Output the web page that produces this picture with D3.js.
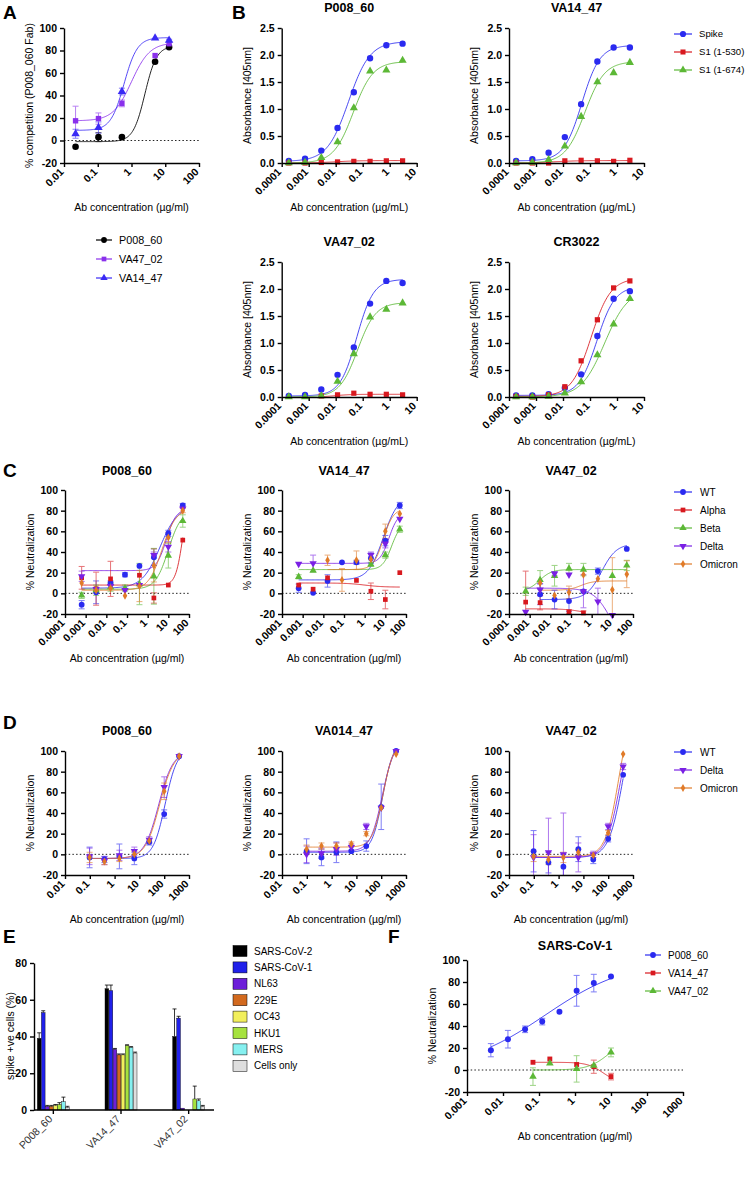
<!DOCTYPE html>
<html><head><meta charset="utf-8">
<script src="https://cdn.jsdelivr.net/npm/d3@7"></script>
<style>body{margin:0;background:#fff}</style>
</head><body>
<script>
// ================= DATA =================
// ---- Panel A ----
const A_conc=[0.022,0.105,0.52,5.0,13.0];
const A_P008_60=[-5.5,3,3,70,83];
const A_P008_60_err=[0,4,0,0,0];
const A_VA47_02=[17.5,19.5,33,75.5,86];
const A_VA47_02_err=[13,5,3,0,0];
const A_VA14_47=[6,11.5,43.5,91,89];
const A_VA14_47_err=[4,5,3,0,1];
const A_fit_P008_60=[-1,84,2.5,2.5];
const A_fit_VA47_02=[17.5,87,1.0,1.6];
const A_fit_VA14_47=[9,91.5,0.6,2.2];
const A_xticks=[0.01,0.1,1,10,100];
const A_xlabels=["0.01","0.1","1","10","100"];
const A_yticks=[-20,0,20,40,60,80,100];

// ---- Panel B ----
const B_conc=[0.000183,0.000732,0.00293,0.0117,0.0469,0.1875,0.75,3.0];
const B_names=["Spike","S1 (1-530)","S1 (1-674)"];
const B1_spike=[0.04,0.08,0.23,0.65,1.31,1.94,2.18,2.21];
const B1_s530=[0.0,0.0,0.01,0.02,0.03,0.03,0.04,0.04];
const B1_s674=[0.0,0.01,0.10,0.39,1.02,1.70,1.72,1.90];
const B2_spike=[0.04,0.07,0.19,0.48,1.09,1.88,2.14,2.14];
const B2_s530=[0.0,0.0,0.0,0.04,0.05,0.04,0.03,0.05];
const B2_s674=[0.0,0.01,0.06,0.31,0.86,1.50,1.67,1.86];
const B3_spike=[0.02,0.04,0.14,0.41,0.92,1.73,2.15,2.11];
const B3_s530=[null,null,0.02,0.04,0.07,0.05,0.05,0.04];
const B3_s674=[0.0,0.0,0.02,0.29,0.80,1.48,1.62,1.74];
const B4_spike=[0.03,0.03,0.05,0.17,0.42,1.13,1.82,1.96];
const B4_s530=[0.01,0.0,0.04,0.19,0.67,1.43,2.02,2.15];
const B4_s674=[0.0,0.0,0.01,0.07,0.28,0.78,1.35,1.82];
const B1_fits=[[0.03,2.25,0.03,1.1],[0,0.045,0.01,1],[0,1.88,0.045,1.2]];
const B2_fits=[[0.04,2.18,0.05,1.3],[0,0.045,0.005,1],[0,1.88,0.065,1.2]];
const B3_fits=[[0.02,2.18,0.06,1.4],[0,0.05,0.01,1.5],[0,1.75,0.065,1.3]];
const B4_fits=[[0.03,2.05,0.18,1.3],[0.01,2.2,0.11,1.2],[0,2.0,0.35,1.0]];
const B_xticks=[0.0001,0.001,0.01,0.1,1,10];
const B_xlabels=["0.0001","0.001","0.01","0.1","1","10"];
const B_yticks=[0,0.5,1.0,1.5,2.0,2.5];

// ---- Panel C ----
const C_conc=[0.00064,0.0032,0.016,0.08,0.4,2,10,50];
const C_names=["WT","Alpha","Beta","Delta","Omicron"];
const C1_WT=[-11,1,10,18,26.5,35,58,85];
const C1_Alpha=[15,4.5,14,null,17.5,-4.5,8,51.5];
const C1_Beta=[-2,3,6,5,9,16.5,36.5,70];
const C1_Delta=[16.5,4,7,3,8,37,45,82];
const C1_Omicron=[10,3,5,-2.3,7,27,54,80];
const C1_err=[[4,11,2,2,0,8,3,2],[11,16,17,0,0,5,0,0],[3,5,4,3,20,27,12,6],[5,0,0,0,0,3,5,0],[0,0,0,0,15,16,5,2]];
const C1_fits=[[5,85,4,1],[8,100,50,2.5],[4,80,10,1.4],[22,82,8,1.8],[3,82,5,1.3]];
const C2_WT=[5,0.5,12,30,30,34,51,85];
const C2_Alpha=[8,4,15,null,12.5,2,-6,20];
const C2_Beta=[16,22,null,null,null,28,37,62];
const C2_Delta=[28.5,29,null,null,null,37,48,72];
const C2_Omicron=[null,null,32,13,32,33,60,77];
const C2_err=[[4,0,6,0,2,5,5,3],[0,0,0,0,0,8,9,0],[2,0,0,0,0,2,3,3],[0,8,0,0,0,3,4,0],[0,0,5,11,9,0,7,0]];
const C2_fits=[[13,95,8,1.2],[10,6,1,1],[23,68,20,2],[29,78,15,2],[23,82,8,1.8]];
const C3_WT=[null,-1,-6,-7.5,2,21.5,null,43];
const C3_Alpha=[-8.5,-9,null,-18,-19,null,null,null];
const C3_Beta=[2,13,17,24,23,null,17,27];
const C3_Delta=[-18,3.5,19,18,2,-8,-21,null];
const C3_Omicron=[null,10,-2,1,18,14,3.5,18.5];
const C3_err=[[0,10,9,10,0,3,0,0],[30,7,0,2,2,0,0,0],[4,9,10,5,6,0,0,5],[0,6,2,0,16,13,0,0],[0,0,0,6,0,0,31,13]];
const C3_fits=[[-6,48,3,1.2],[-15,-22,0.5,1],[2,23,0.003,1.5],[5,-60,10,1],[3,12,0.3,1.5]];
const C_xticks=[0.0001,0.001,0.01,0.1,1,10,100];
const C_xlabels=["0.0001","0.001","0.01","0.1","1","10","100"];
const C_yticks=[-20,0,20,40,60,80,100];

// ---- Panel D ----
const D_conc=[0.098,0.39,1.56,6.25,25,100,400];
const D_names=["WT","Delta","Omicron"];
const D1_WT=[-3,-5,-2,-4,12,39,95];
const D1_Delta=[-2,-6,-1,3,14,65,95];
const D1_Omicron=[-3,-7,-4,0,13,61,95];
const D1_err=[[10,3,12,6,3,4,0],[8,4,5,4,3,10,0],[5,3,3,3,2,8,0]];
const D1_fits=[[-4,102,110,1.8],[-4,100,60,1.5],[-4,100,65,1.5]];
const D2_WT=[3,-3,2,3,8,46,100];
const D2_Delta=[0,1,5,7,27,45,100];
const D2_Omicron=[5,8,8,10,20,45,97];
const D2_err=[[12,8,10,0,5,22,0],[8,5,6,3,3,0,0],[4,3,3,2,2,0,0]];
const D2_fits=[[2,110,115,2],[3,110,110,1.8],[7,110,120,2]];
const D3_WT=[3,-8,-12,5,-5,15,77];
const D3_Delta=[-3,2,0,-3,0,27,85];
const D3_Omicron=[-2,-5,-3,2,-1,21,97];
const D3_err=[[20,10,12,12,4,3,0],[22,33,40,14,3,3,3],[5,5,5,3,2,2,0]];
const D3_fits=[[-3,150,400,1.5],[-3,150,330,1.5],[-2,150,270,1.6]];
const D_xticks=[0.01,0.1,1,10,100,1000];
const D_xlabels=["0.01","0.1","1","10","100","1000"];

// ---- Panel E ----
const E_groups=["P008_60","VA14_47","VA47_02"];
const E_targets=["SARS-CoV-2","SARS-CoV-1","NL63","229E","OC43","HKU1","MERS","Cells only"];
const E_P008_60=[39,53,2,2,2.5,3,4.5,1.5];
const E_VA14_47=[66,65,33,30,30,35,34,31];
const E_VA47_02=[40,50,1,0,0,6,5,2];
const E_P008_60_err=[3,1,0.5,0.5,0.5,1,2.5,0.5];
const E_VA14_47_err=[2,3,0.5,0.5,0.5,0.5,0.5,0.5];
const E_VA47_02_err=[15,1,0,0,0,7,1,0.5];
const E_yticks=[0,20,40,60,80];
const E_colors=["#000000","#2020ea","#6d1fd9","#d2691e","#f2ef5c","#a6e23e","#86f0f0","#dedede"];

// ---- Panel F ----
const F_names=["P008_60","VA14_47","VA47_02"];
const F_conc_P008_60=[0.0046,0.0137,0.041,0.123,0.37,1.11,3.33,10];
const F_P008_60=[18,28,37,44,53,72,79,85];
const F_P008_60_err=[6,8,3,3,0,14,8,0];
const F_conc_other=[0.068,0.2,1.11,3.33,10];
const F_VA14_47=[7,10,5,3,-6];
const F_VA14_47_err=[0,0,0,6,3];
const F_VA47_02=[-6,6,1,4,16];
const F_VA47_02_err=[8,0,12,0,4];
const F_fits=[[0,100,0.15,0.38],[7,-12,6,2],[0,30,9,1.5]];
const F_xticks=[0.001,0.01,0.1,1,10,100,1000];
const F_xlabels=["0.001","0.01","0.1","1","10","100","1000"];

// ================= DRAWING =================
const FF="'Liberation Sans', Arial, Helvetica, sans-serif";
const BLUE="#2a2af0",RED="#d8191f",GREEN="#5cb836",PURPLE="#7a20e4",ORANGE="#e07a28";
const svg=d3.select("body").append("svg").attr("width",748).attr("height",1185);

function txt(x,y,s,o={}){
  const t=svg.append("text").attr("x",x).attr("y",y).text(s)
    .attr("font-family",FF).attr("font-size",o.size||10.5)
    .attr("font-weight",o.bold?"bold":"normal")
    .attr("text-anchor",o.anchor||"start").attr("fill","#000");
  if(o.rot) t.attr("transform",`rotate(${o.rot},${x},${y})`);
  if(o.dy) t.attr("dy",o.dy);
  return t;
}
function logistic(p,x){const [b,t,ec,h]=p;return b+(t-b)/(1+Math.pow(ec/x,h));}
function marker(g,shape,color,cx,cy,size){
  let sym=d3.symbolCircle,rot=0,sz=size;
  if(shape==="square"){sym=d3.symbolSquare;sz=size*0.85;}
  if(shape==="tri"){sym=d3.symbolTriangle;sz=size*0.9;}
  if(shape==="tridown"){sym=d3.symbolTriangle;rot=180;sz=size*0.9;}
  if(shape==="diamond"){sym=d3.symbolDiamond;sz=size*0.7;}
  g.append("path").attr("d",d3.symbol(sym,sz)())
    .attr("transform",`translate(${cx},${cy}) rotate(${rot})`).attr("fill",color);
}
function styleAxis(sel){
  sel.attr("font-family",FF).attr("font-size",10.5).attr("font-weight","bold");
  sel.select(".domain").attr("stroke","#000").attr("stroke-width",1.4);
  sel.selectAll(".tick line").attr("stroke","#000").attr("stroke-width",1.4);
  sel.selectAll(".tick text").attr("fill","#000");
}
function rotLabels(sel){
  sel.selectAll(".tick text").attr("text-anchor","end").attr("x",-7).attr("y",3)
    .attr("dy","0.35em").attr("transform","rotate(-45)");
}
let clipN=0;
function xyPanel(o,series){
  const x=d3.scaleLog().domain(o.xdom).range([o.x0,o.x1]);
  const y=d3.scaleLinear().domain(o.ydom).range([o.y1,o.y0]);
  const g=svg.append("g");
  const id="clip"+(clipN++);
  g.append("clipPath").attr("id",id).append("rect")
    .attr("x",o.x0).attr("y",o.y0-3).attr("width",o.x1-o.x0+4).attr("height",o.y1-o.y0+3);
  if(o.zero) g.append("line").attr("x1",o.x0).attr("x2",o.x1).attr("y1",y(0)).attr("y2",y(0))
    .attr("stroke","#222").attr("stroke-width",1).attr("stroke-dasharray","1.5,2.2");
  const ms=o.msize||28;
  series.forEach(s=>{
    const xs=s.xs.filter((v,i)=>s.ys[i]!=null);
    const lo=Math.log10(d3.min(xs)),hi=Math.log10(d3.max(xs));
    const pts=d3.range(0,121).map(i=>{const xv=Math.pow(10,lo+(hi-lo)*i/120);return [x(xv),y(logistic(s.fit,xv))];});
    g.append("path").attr("d",d3.line()(pts)).attr("fill","none").attr("stroke",s.color)
      .attr("stroke-width",1).attr("opacity",0.85).attr("clip-path",`url(#${id})`);
  });
  series.forEach(s=>{
    s.ys.forEach((v,i)=>{
      if(v==null||!s.err||!s.err[i]) return;
      const cx=x(s.xs[i]),e=s.err[i];
      const eg=g.append("g").attr("stroke",s.color).attr("stroke-width",1).attr("opacity",0.6).attr("clip-path",`url(#${id})`);
      eg.append("line").attr("x1",cx).attr("x2",cx).attr("y1",y(v-e)).attr("y2",y(v+e));
      eg.append("line").attr("x1",cx-3).attr("x2",cx+3).attr("y1",y(v-e)).attr("y2",y(v-e));
      eg.append("line").attr("x1",cx-3).attr("x2",cx+3).attr("y1",y(v+e)).attr("y2",y(v+e));
    });
  });
  series.forEach(s=>{
    s.ys.forEach((v,i)=>{
      if(v==null) return;
      const yy=y(v); if(yy>o.y1+2) return;
      marker(g,s.shape,s.color,x(s.xs[i]),yy,ms);
    });
  });
  const yg=g.append("g").attr("transform",`translate(${o.x0},0)`)
    .call(d3.axisLeft(y).tickValues(o.yticks).tickFormat(o.yfmt||(d=>String(d))).tickSize(4).tickSizeOuter(0));
  styleAxis(yg);
  const lbl=o.xlabels;
  const xg=g.append("g").attr("transform",`translate(0,${o.y1})`)
    .call(d3.axisBottom(x).tickValues(o.xticks).tickFormat((d,i)=>lbl[i]).tickSize(4).tickSizeOuter(0));
  styleAxis(xg); rotLabels(xg);
  if(o.title) txt((o.x0+o.x1)/2,o.titleY,o.title,{bold:true,size:12.5,anchor:"middle"});
  if(o.ylabel) txt(o.x0-31,(o.y0+o.y1)/2,o.ylabel,{anchor:"middle",rot:-90});
  if(o.xlabel) txt((o.x0+o.x1)/2,o.y1+48,o.xlabel,{anchor:"middle"});
}
function legend(items,sx,tx,ys,half,ms,fs){
  const g=svg.append("g");
  items.forEach((it,i)=>{
    g.append("line").attr("x1",sx-half).attr("x2",sx+half).attr("y1",ys[i]).attr("y2",ys[i])
      .attr("stroke",it.color).attr("stroke-width",1.2);
    marker(g,it.shape,it.color,sx,ys[i],ms);
    txt(tx,ys[i],it.name,{dy:"0.35em",size:fs||10});
  });
}
function ser(xs,ys,err,fit,color,shape){return {xs,ys,err,fit,color,shape};}

// Panel letters
txt(3,19,"A",{bold:true,size:19});
txt(232,19,"B",{bold:true,size:19});
txt(3,477,"C",{bold:true,size:19});
txt(3,729,"D",{bold:true,size:19});
txt(3,943,"E",{bold:true,size:19});
txt(388,943,"F",{bold:true,size:19});

// ---- A ----
const A_PURPLE="#8a30ec",A_BLUE="#3a2af5";
xyPanel({x0:64,x1:199,y0:28,y1:163,xdom:[0.01,100],ydom:[-20,100],xticks:A_xticks,xlabels:A_xlabels,
  yticks:A_yticks,zero:true,ylabel:"% competition (P008_060 Fab)",xlabel:"Ab concentration (µg/ml)",msize:34},
 [ser(A_conc,A_P008_60,A_P008_60_err,A_fit_P008_60,"#000","circle"),
  ser(A_conc,A_VA47_02,A_VA47_02_err,A_fit_VA47_02,A_PURPLE,"square"),
  ser(A_conc,A_VA14_47,A_VA14_47_err,A_fit_VA14_47,A_BLUE,"tri")]);
legend([{name:"P008_60",color:"#000",shape:"circle"},{name:"VA47_02",color:A_PURPLE,shape:"square"},{name:"VA14_47",color:A_BLUE,shape:"tri"}],
  104,119,[240,259,278],8,26,10.8);

// ---- B ----
const B_cols=[BLUE,RED,GREEN],B_shapes=["circle","square","tri"];
function bPanel(x0,y0,title,data,fits){
  xyPanel({x0:x0,x1:x0+135,y0:y0,y1:y0+135,xdom:[0.0001,10],ydom:[0,2.5],xticks:B_xticks,xlabels:B_xlabels,
    yticks:B_yticks,yfmt:d3.format(".1f"),title:title,titleY:y0-16,ylabel:"Absorbance [405nm]",
    xlabel:"Ab concentration (µg/mL)",msize:32},
    data.map((d,i)=>ser(B_conc,d,null,fits[i],B_cols[i],B_shapes[i])));
}
bPanel(281.7,28,"P008_60",[B1_spike,B1_s530,B1_s674],B1_fits);
bPanel(509,28,"VA14_47",[B2_spike,B2_s530,B2_s674],B2_fits);
bPanel(281.7,262,"VA47_02",[B3_spike,B3_s530,B3_s674],B3_fits);
bPanel(509,262,"CR3022",[B4_spike,B4_s530,B4_s674],B4_fits);
legend(B_names.map((n,i)=>({name:n,color:B_cols[i],shape:B_shapes[i]})),683,699,[34,52,70],9,30,9.6);

// ---- C ----
const C_cols=[BLUE,RED,GREEN,PURPLE,ORANGE],C_shapes=["circle","square","tri","tridown","diamond"];
function cPanel(x0,title,data,errs,fits){
  xyPanel({x0:x0,x1:x0+124,y0:490,y1:614,xdom:[0.0001,100],ydom:[-20,100],xticks:C_xticks,xlabels:C_xlabels,
    yticks:C_yticks,zero:true,title:title,titleY:475,ylabel:"% Neutralization",xlabel:"Ab concentration (µg/ml)",msize:26},
    data.map((d,i)=>ser(C_conc,d,errs[i],fits[i],C_cols[i],C_shapes[i])));
}
cPanel(65,"P008_60",[C1_WT,C1_Alpha,C1_Beta,C1_Delta,C1_Omicron],C1_err,C1_fits);
cPanel(282,"VA14_47",[C2_WT,C2_Alpha,C2_Beta,C2_Delta,C2_Omicron],C2_err,C2_fits);
cPanel(509,"VA47_02",[C3_WT,C3_Alpha,C3_Beta,C3_Delta,C3_Omicron],C3_err,C3_fits);
legend(C_names.map((n,i)=>({name:n,color:C_cols[i],shape:C_shapes[i]})),683,700,[492,510,528,546,564],9,26,10);

// ---- D ----
const D_cols=[BLUE,PURPLE,ORANGE],D_shapes=["circle","tridown","diamond"];
function dPanel(x0,title,data,errs,fits){
  xyPanel({x0:x0,x1:x0+124,y0:751,y1:875,xdom:[0.01,1000],ydom:[-20,100],xticks:D_xticks,xlabels:D_xlabels,
    yticks:C_yticks,zero:true,title:title,titleY:735,ylabel:"% Neutralization",xlabel:"Ab concentration (µg/ml)",msize:26},
    data.map((d,i)=>ser(D_conc,d,errs[i],fits[i],D_cols[i],D_shapes[i])));
}
dPanel(65,"P008_60",[D1_WT,D1_Delta,D1_Omicron],D1_err,D1_fits);
dPanel(282,"VA014_47",[D2_WT,D2_Delta,D2_Omicron],D2_err,D2_fits);
dPanel(509,"VA47_02",[D3_WT,D3_Delta,D3_Omicron],D3_err,D3_fits);
legend(D_names.map((n,i)=>({name:n,color:D_cols[i],shape:D_shapes[i]})),683,700,[752,770,788],9,26,10);

// ---- E ----
(function(){
  const g=svg.append("g");
  const ex=d3.scaleBand().domain(E_groups).range([19.5,222.5]);
  const ein=d3.scaleBand().domain(E_targets).range([-16,16]).paddingInner(0.08);
  const ey=d3.scaleLinear().domain([0,80]).range([1110,963]);
  const vals=[E_P008_60,E_VA14_47,E_VA47_02],errs=[E_P008_60_err,E_VA14_47_err,E_VA47_02_err];
  E_groups.forEach((gn,gi)=>{
    const cx=ex(gn)+ex.bandwidth()/2;
    E_targets.forEach((t,ti)=>{
      const v=vals[gi][ti],e=errs[gi][ti];
      const bx=cx+ein(t),bw=ein.bandwidth();
      g.append("rect").attr("x",bx).attr("width",bw).attr("y",ey(v)).attr("height",ey(0)-ey(v))
        .attr("fill",E_colors[ti]).attr("stroke","#000").attr("stroke-width",0.4);
      if(e>0){
        const mx=bx+bw/2;
        g.append("line").attr("x1",mx).attr("x2",mx).attr("y1",ey(v)).attr("y2",ey(v+e)).attr("stroke","#000").attr("stroke-width",0.8);
        g.append("line").attr("x1",mx-2).attr("x2",mx+2).attr("y1",ey(v+e)).attr("y2",ey(v+e)).attr("stroke","#000").attr("stroke-width",0.8);
      }
    });
  });
  const yg=g.append("g").attr("transform","translate(34,0)")
    .call(d3.axisLeft(ey).tickValues(E_yticks).tickSize(4).tickSizeOuter(0));
  styleAxis(yg);
  const xg=g.append("g").attr("transform","translate(0,1110)")
    .call(d3.axisBottom(ex).tickSize(4).tickSizeOuter(0));
  styleAxis(xg);
  xg.select(".domain").attr("d","M34,0H214");
  xg.selectAll(".tick text").attr("font-weight","normal").attr("fill","#333");
  rotLabels(xg);
  txt(14,1036,"spike +ve cells (%)",{anchor:"middle",rot:-90});
  E_targets.forEach((t,i)=>{
    const yy=951+i*16.4;
    g.append("rect").attr("x",233).attr("y",yy-5.5).attr("width",14).attr("height",11)
      .attr("fill",E_colors[i]).attr("stroke","#000").attr("stroke-width",0.5);
    txt(254,yy,t,{dy:"0.35em",size:10});
  });
})();

// ---- F ----
const F_cols=[BLUE,RED,GREEN],F_shapes=["circle","square","tri"];
xyPanel({x0:467,x1:683,y0:960,y1:1092,xdom:[0.001,1000],ydom:[-20,100],xticks:F_xticks,xlabels:F_xlabels,
  yticks:C_yticks,zero:true,title:"SARS-CoV-1",titleY:950,ylabel:"% Neutralization",xlabel:"Ab concentration (µg/ml)",msize:28},
 [ser(F_conc_P008_60,F_P008_60,F_P008_60_err,F_fits[0],BLUE,"circle"),
  ser(F_conc_other,F_VA14_47,F_VA14_47_err,F_fits[1],RED,"square"),
  ser(F_conc_other,F_VA47_02,F_VA47_02_err,F_fits[2],GREEN,"tri")]);
legend(F_names.map((n,i)=>({name:n,color:F_cols[i],shape:F_shapes[i]})),653,668,[955,973,991],8,26,10);
</script>
</body></html>
